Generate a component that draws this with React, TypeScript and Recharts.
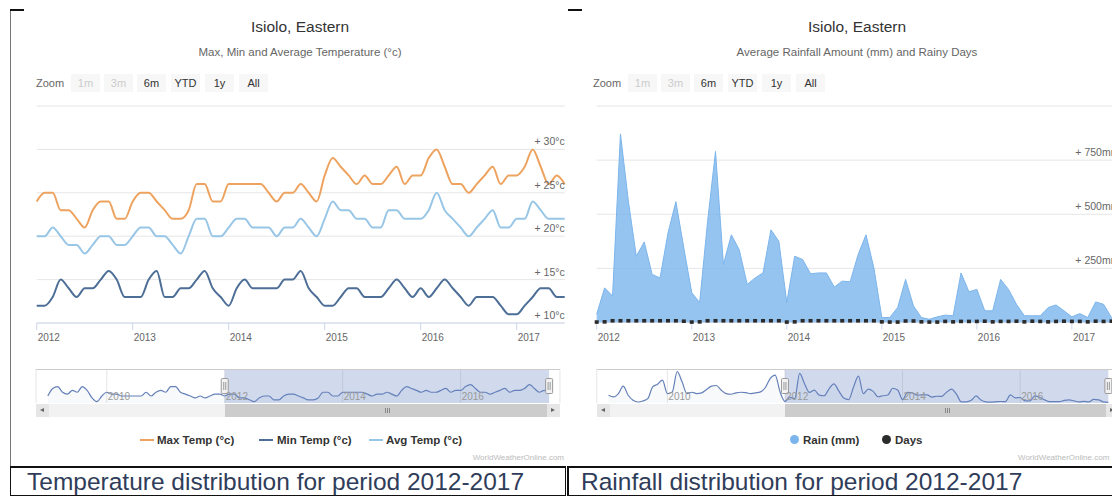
import React from "react";
import {
  ComposedChart,
  Line,
  Area,
  XAxis,
  YAxis,
  CartesianGrid,
  ReferenceArea,
  ReferenceDot,
} from "recharts";

// month index 0 = Jan 2012
const yearTicks = [0, 12, 24, 36, 48, 60];
const yearLabels = ["2012", "2013", "2014", "2015", "2016", "2017"];
const navTicks = [-24, 0, 24, 48];
const navLabels = ["2010", "2012", "2014", "2016"];
const tempTicks = [10, 15, 20, 25, 30, 35];
const rainTicks = [0, 250, 500, 750, 1000];

const maxTemp = [
  24, 25, 25, 23, 23, 22, 21, 23, 24, 24, 22, 22,
  24, 25, 25, 24, 23, 22, 22, 23, 26, 26, 24, 24,
  26, 26, 26, 26, 26, 25, 24, 25, 25, 26, 25, 24,
  27, 29, 28, 27, 26, 27, 26, 26, 27, 28, 26, 27,
  27, 29, 30, 28, 26, 26, 25, 26, 27, 28, 26, 27,
  27, 28, 30, 28, 26, 27, 26,
];
const minTemp = [
  12, 12, 13, 15, 14, 13, 14, 14, 15, 16, 15, 13,
  13, 13, 15, 16, 13, 13, 14, 14, 15, 16, 14, 13,
  12, 14, 15, 14, 14, 14, 14, 15, 15, 16, 14, 13,
  12, 12, 13, 14, 14, 13, 13, 13, 14, 15, 14, 13,
  14, 13, 14, 15, 14, 13, 12, 13, 13, 13, 12, 11,
  11, 12, 13, 14, 14, 13, 13,
];
const avgTemp = [
  20, 20, 21, 20, 19, 19, 18, 19, 20, 20, 19, 19,
  20, 21, 21, 20, 20, 19, 18, 20, 22, 22, 20, 20,
  21, 22, 22, 21, 21, 21, 20, 21, 21, 22, 21, 20,
  22, 24, 23, 23, 22, 22, 21, 21, 23, 23, 22, 22,
  22, 23, 25, 23, 22, 21, 20, 21, 22, 23, 21, 21,
  22, 22, 24, 23, 22, 22, 22,
];
const rain = [
  38, 160, 122, 871, 560, 306, 372, 222, 206, 413, 558, 344,
  138, 92, 466, 790, 268, 405, 336, 176, 206, 229, 428, 375,
  92, 306, 291, 225, 229, 229, 164, 191, 188, 313, 405, 252,
  23, 23, 69, 199, 76, 23, 15, 26, 34, 31, 229, 142,
  153, 54, 54, 199, 153, 84, 31, 31, 31, 69, 81, 54,
  26, 41, 23, 95, 84, 23, 8,
];
const rainyDays = [
  2, 3, 8, 8, 8, 8, 8, 8, 8, 8, 8, 6,
  2, 3, 8, 8, 8, 8, 8, 8, 8, 8, 8, 8,
  2, 3, 8, 8, 8, 8, 8, 8, 8, 8, 8, 8,
  3, 2, 2, 7, 7, 3, 2, 2, 5, 3, 5, 5,
  5, 6, 3, 5, 5, 6, 3, 6, 5, 3, 5, 6,
  5, 5, 3, 6, 5, 6, 5,
];

// navigator history, Jan 2009 - Dec 2011
const navMaxPre = [
  24, 28, 29, 26, 25, 27, 26, 29, 27, 23, 21, 24,
  26, 25, 25, 24, 24, 24, 24, 24, 26, 24, 26, 27,
  26, 29, 29, 26, 25, 24, 23, 24, 23, 24, 25, 25,
];
const navRainPre = [
  220, 170, 270, 490, 220, 70, 20, 50, 120, 470, 550, 670,
  270, 320, 920, 620, 270, 310, 270, 290, 390, 490, 510, 370,
  270, 250, 290, 310, 300, 270, 290, 320, 450, 720, 820, 320,
];

const tempData = maxTemp.map((v, i) => ({ m: i, max: v, min: minTemp[i], avg: avgTemp[i] }));
const rainData = rain.map((v, i) => ({ m: i, rain: v, days: rainyDays[i] }));
const navTempData = [...navMaxPre, ...maxTemp].map((v, i) => ({ m: i - 36, v }));
const navRainData = [...navRainPre, ...rain].map((v, i) => ({ m: i - 36, v }));

const FONT = "'Liberation Sans', Arial, sans-serif";
const PLOT_TOP = 106;
const PLOT_BOTTOM = 323;
const XAXIS_H = 20;
const NAV_MIN = -38.4;
const NAV_MAX = 68.2;

const yearTick = (labels: string[], ticks: number[], y: number, size: number, color: string) =>
  (p: any) => {
    const idx = ticks.indexOf(p.payload.value);
    return (
      <text x={p.x + 1} y={y} textAnchor="start" fontSize={size} fill={color} fontFamily={FONT}>
        {labels[idx]}
      </text>
    );
  };

const valueTick = (xr: number, unit: string, hidden: number[]) => (p: any) => {
  if (hidden.includes(p.payload.value)) return <g />;
  return (
    <text x={xr} y={p.y - 4} textAnchor="end" fontSize={10.5} fill="#666" fontFamily={FONT}>
      {`+ ${p.payload.value}${unit}`}
    </text>
  );
};

const squareDot = (p: any) => (
  <rect key={`d${p.index}`} x={p.cx - 2} y={p.cy - 1.8} width={4} height={3.6} fill="#2b2b2b" />
);

const handle = (p: any) => (
  <g>
    <rect x={p.cx - 3.5} y={p.cy - 7.5} width={7} height={15} rx={1} fill="#f2f2f2" stroke="#999" />
    <line x1={p.cx - 1} x2={p.cx - 1} y1={p.cy - 4} y2={p.cy + 4} stroke="#999" />
    <line x1={p.cx + 1} x2={p.cx + 1} y1={p.cy - 4} y2={p.cy + 4} stroke="#999" />
  </g>
);

function TempChart() {
  const plotR = 564.7;
  return (
    <ComposedChart
      width={580}
      height={350}
      data={tempData}
      margin={{ top: PLOT_TOP, left: 36.7, right: 580 - plotR - 1, bottom: 350 - PLOT_BOTTOM - XAXIS_H }}
    >
      <CartesianGrid vertical={false} stroke="#e6e6e6" />
      <XAxis
        dataKey="m"
        type="number"
        domain={[0, 66]}
        ticks={yearTicks}
        height={XAXIS_H}
        stroke="#ccd6eb"
        tickSize={7}
        tick={yearTick(yearLabels, yearTicks, 341, 10, "#666")}
      />
      <YAxis
        orientation="right"
        width={1}
        domain={[10, 35]}
        ticks={tempTicks}
        axisLine={false}
        tickLine={false}
        tick={valueTick(plotR, "°c", [35])}
      />
      <Line type="monotone" dataKey="max" stroke="#eda35f" strokeWidth={2} dot={false} isAnimationActive={false} />
      <Line type="monotone" dataKey="min" stroke="#4d6e96" strokeWidth={2} dot={false} isAnimationActive={false} />
      <Line type="monotone" dataKey="avg" stroke="#98c6e6" strokeWidth={2} dot={false} isAnimationActive={false} />
    </ComposedChart>
  );
}

function RainChart() {
  const plotR = 36.7 + 66 * 7.92;
  return (
    <ComposedChart
      width={580}
      height={350}
      data={rainData}
      margin={{ top: PLOT_TOP, left: 36.7, right: 580 - plotR - 1, bottom: 350 - 322.5 - XAXIS_H }}
    >
      <CartesianGrid vertical={false} stroke="#e6e6e6" />
      <XAxis
        dataKey="m"
        type="number"
        domain={[0, 66]}
        ticks={yearTicks}
        height={XAXIS_H}
        stroke="#ccd6eb"
        tickSize={7}
        tick={yearTick(yearLabels, yearTicks, 341, 10, "#666")}
      />
      <YAxis
        orientation="right"
        width={1}
        domain={[0, 1000]}
        ticks={rainTicks}
        axisLine={false}
        tickLine={false}
        tick={valueTick(plotR, "mm", [0, 1000])}
      />
      <Area
        type="linear"
        dataKey="rain"
        stroke="#7cb5ec"
        strokeWidth={1}
        fill="#7cb5ec"
        fillOpacity={0.8}
        isAnimationActive={false}
      />
      <Line dataKey="days" stroke="none" strokeWidth={0} dot={squareDot} isAnimationActive={false} />
    </ComposedChart>
  );
}

function Navigator({ data, yDomain, navL, navPx }: any) {
  const navR = navL + (NAV_MAX - NAV_MIN) * navPx;
  const mid = (yDomain[0] + yDomain[1]) / 2;
  return (
    <ComposedChart width={580} height={50} data={data} margin={{ top: 9, left: navL, right: 580 - navR, bottom: 6 }}>
      <CartesianGrid horizontal={false} stroke="#e6e6e6" />
      <XAxis
        dataKey="m"
        type="number"
        domain={[NAV_MIN, NAV_MAX]}
        ticks={navTicks}
        height={1}
        axisLine={false}
        tickLine={false}
        tick={yearTick(navLabels, navTicks, 40, 10, "#999")}
      />
      <YAxis hide domain={yDomain} />
      <Area
        type="monotone"
        dataKey="v"
        stroke="#6580b8"
        strokeWidth={1.2}
        fill="#6580b8"
        fillOpacity={0.05}
        isAnimationActive={false}
      />
      <ReferenceArea x1={0} x2={66} fill="#6685c2" fillOpacity={0.3} stroke="none" />
      <ReferenceDot x={0} y={mid} r={0} shape={handle} />
      <ReferenceDot x={66} y={mid} r={0} shape={handle} />
    </ComposedChart>
  );
}

const arrow = (dir: "left" | "right"): React.CSSProperties => ({
  position: "absolute",
  left: 4,
  top: 4,
  width: 0,
  height: 0,
  borderTop: "2.5px solid transparent",
  borderBottom: "2.5px solid transparent",
  borderRight: dir === "left" ? "4px solid #666" : undefined,
  borderLeft: dir === "right" ? "4px solid #666" : undefined,
});

function Scrollbar({ x, navL, navPx }: any) {
  const xm = (m: number) => navL + (m - NAV_MIN) * navPx;
  const left = x + navL;
  const width = (NAV_MAX - NAV_MIN) * navPx;
  const thumbW = xm(66) - xm(0);
  return (
    <>
      <div style={{ position: "absolute", left, top: 369, width, height: 1, background: "#ccc" }} />
      <div style={{ position: "absolute", left, top: 404, width, height: 13, background: "#f2f2f2" }} />
      <div style={{ position: "absolute", left: x + xm(0), top: 404, width: thumbW, height: 13, background: "#cccccc" }}>
        {[-2, 0, 2].map((d) => (
          <div key={d} style={{ position: "absolute", left: thumbW / 2 + d, top: 4, width: 1, height: 5, background: "#888" }} />
        ))}
      </div>
      <div style={{ position: "absolute", left, top: 404, width: 13, height: 13, background: "#e6e6e6" }}>
        <div style={arrow("left")} />
      </div>
      <div style={{ position: "absolute", left: left + width - 13, top: 404, width: 13, height: 13, background: "#e6e6e6" }}>
        <div style={arrow("right")} />
      </div>
    </>
  );
}

function Header({ x, subtitle }: any) {
  const buttons = [
    { t: "1m", on: false, l: 71 },
    { t: "3m", on: false, l: 104 },
    { t: "6m", on: true, l: 137 },
    { t: "YTD", on: true, l: 171 },
    { t: "1y", on: true, l: 205 },
    { t: "All", on: true, l: 239 },
  ];
  return (
    <>
      <div style={{ position: "absolute", left: x + 100, width: 400, top: 18, lineHeight: "18px", textAlign: "center", fontSize: 15.5, color: "#333" }}>
        Isiolo, Eastern
      </div>
      <div style={{ position: "absolute", left: x + 50, width: 500, top: 45, lineHeight: "14px", textAlign: "center", fontSize: 11.5, color: "#666" }}>
        {subtitle}
      </div>
      <div style={{ position: "absolute", left: x + 36, top: 74, lineHeight: "18px", fontSize: 11, color: "#666" }}>Zoom</div>
      {buttons.map((b) => (
        <div
          key={b.t}
          style={{
            position: "absolute", left: x + b.l, top: 74, width: 29, height: 18, lineHeight: "18px",
            textAlign: "center", fontSize: 11, background: "#f7f7f7", color: b.on ? "#333" : "#ccc",
          }}
        >
          {b.t}
        </div>
      ))}
    </>
  );
}

const legendText: React.CSSProperties = {
  position: "absolute", top: 433, lineHeight: "14px", fontSize: 11.5, fontWeight: "bold", color: "#333",
};

export default function App() {
  return (
    <div
      style={{
        position: "absolute", left: 0, top: 0, width: 1112, height: 498, overflow: "hidden",
        background: "#fff", fontFamily: FONT,
      }}
    >
      {/* left panel */}
      <div style={{ position: "absolute", left: 10, top: 10, width: 1, height: 456, background: "#777" }} />
      <div style={{ position: "absolute", left: 10, top: 9, width: 14, height: 2, background: "#111" }} />
      <div style={{ position: "absolute", left: 568, top: 9, width: 14, height: 2, background: "#111" }} />

      <Header x={0} subtitle="Max, Min and Average Temperature (°c)" />
      <div style={{ position: "absolute", left: 0, top: 0 }}>
        <TempChart />
      </div>
      <div style={{ position: "absolute", left: 0, top: 360 }}>
        <Navigator data={navTempData} yDomain={[20.3, 38.3]} navL={36} navPx={4.915} />
      </div>
      <Scrollbar x={0} navL={36} navPx={4.915} />
      <div style={{ position: "absolute", left: 140, top: 439, width: 14, height: 2, background: "#eda35f" }} />
      <div style={{ ...legendText, left: 157 }}>Max Temp (°c)</div>
      <div style={{ position: "absolute", left: 259, top: 439, width: 14, height: 2, background: "#4d6e96" }} />
      <div style={{ ...legendText, left: 277 }}>Min Temp (°c)</div>
      <div style={{ position: "absolute", left: 369, top: 439, width: 14, height: 2, background: "#98c6e6" }} />
      <div style={{ ...legendText, left: 386 }}>Avg Temp (°c)</div>
      <div style={{ position: "absolute", left: 364, width: 200, top: 452, textAlign: "right", fontSize: 8, lineHeight: "12px", color: "#bbb" }}>
        WorldWeatherOnline.com
      </div>

      {/* right panel */}
      <Header x={557} subtitle="Average Rainfall Amount (mm) and Rainy Days" />
      <div style={{ position: "absolute", left: 560, top: 0 }}>
        <RainChart />
      </div>
      <div style={{ position: "absolute", left: 560, top: 360 }}>
        <Navigator data={navRainData} yDomain={[-10, 1000]} navL={36.8} navPx={4.9} />
      </div>
      <Scrollbar x={560} navL={36.8} navPx={4.9} />
      <div style={{ position: "absolute", left: 790, top: 435, width: 9, height: 9, borderRadius: 5, background: "#7cb5ec" }} />
      <div style={{ ...legendText, left: 803 }}>Rain (mm)</div>
      <div style={{ position: "absolute", left: 882, top: 435, width: 9, height: 9, borderRadius: 5, background: "#2b2b2b" }} />
      <div style={{ ...legendText, left: 895 }}>Days</div>
      <div style={{ position: "absolute", left: 1018, top: 452, whiteSpace: "nowrap", fontSize: 8, lineHeight: "12px", color: "#bbb" }}>
        WorldWeatherOnline.com
      </div>

      {/* captions */}
      <div
        style={{
          position: "absolute", left: 10, top: 466, width: 556, height: 30, borderTop: "2px solid #111",
          borderLeft: "1px solid #111", borderRight: "1px solid #111", borderBottom: "1px solid #111",
          boxSizing: "border-box", paddingLeft: 16, fontSize: 24.5, lineHeight: "28px", color: "#2f3d5a",
          whiteSpace: "nowrap",
        }}
      >
        Temperature distribution for period 2012-2017
      </div>
      <div
        style={{
          position: "absolute", left: 567, top: 466, width: 570, height: 30, borderTop: "2px solid #111",
          borderLeft: "2px solid #111", borderBottom: "1px solid #111",
          boxSizing: "border-box", paddingLeft: 12, fontSize: 24.5, lineHeight: "28px", color: "#2f3d5a",
          whiteSpace: "nowrap",
        }}
      >
        Rainfall distribution for period 2012-2017
      </div>
    </div>
  );
}
